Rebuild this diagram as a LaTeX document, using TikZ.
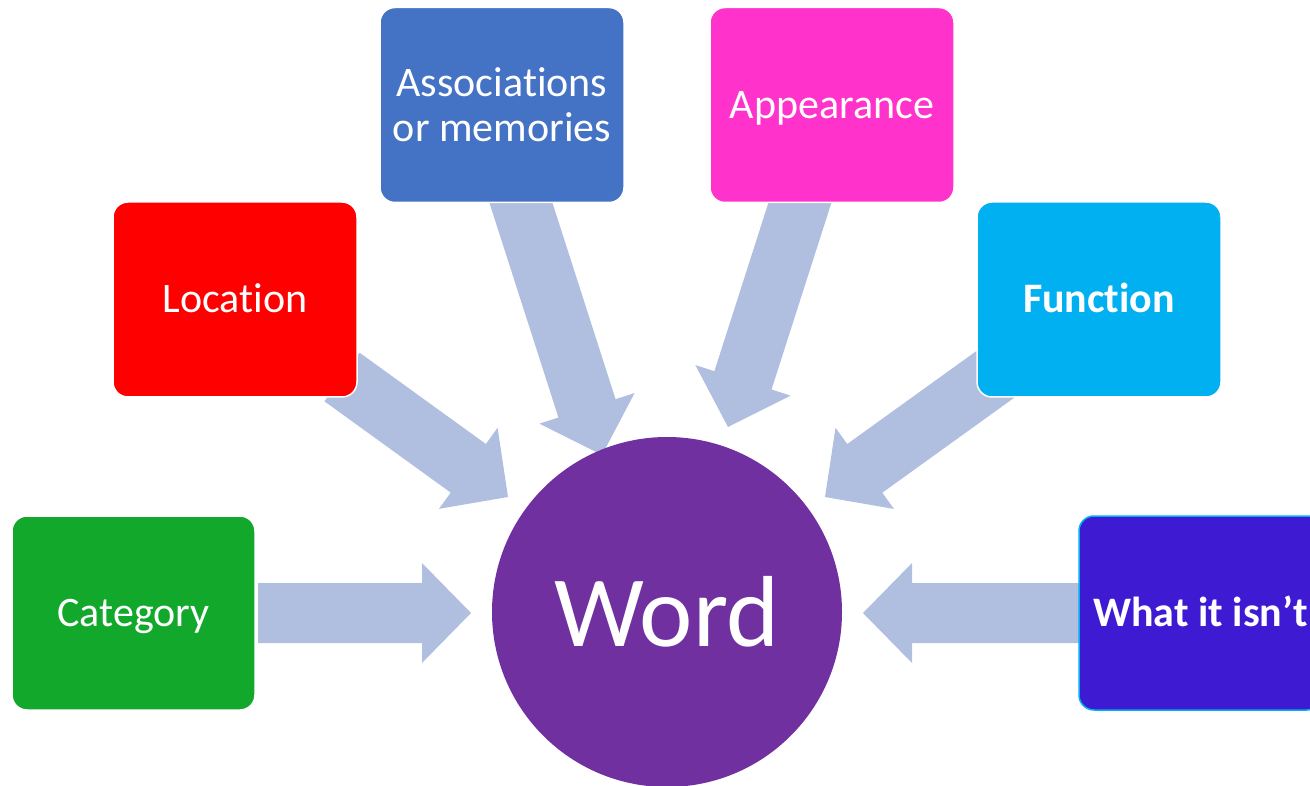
\documentclass[tikz,border=0pt]{standalone}
\usepackage{fontspec}
\setmainfont{Carlito}[Ligatures={NoCommon,NoContextual}]
\usetikzlibrary{calc}
\definecolor{arrowc}{HTML}{B0BEE0}
\definecolor{catc}{HTML}{12A82C}
\definecolor{locc}{HTML}{FF0000}
\definecolor{assc}{HTML}{4472C4}
\definecolor{appc}{HTML}{FF33CC}
\definecolor{funcc}{HTML}{00B0F0}
\definecolor{isntc}{HTML}{3E1BD3}
\definecolor{wordc}{HTML}{7030A0}
\newcommand{\blkarrow}[2]{%
  \coordinate (#1h) at ($(#2)!49pt!(#1)$);
  \fill[arrowc] (#2) -- ($(#1h)!50pt!90:(#2)$) -- ($(#1h)!30pt!90:(#2)$)
    -- ($(#1)!30pt!90:(#1h)$) -- ($(#1)!30pt!-90:(#1h)$)
    -- ($(#1h)!30pt!-90:(#2)$) -- ($(#1h)!50pt!-90:(#2)$) -- cycle;
}
\tikzset{
  cardbox/.style={rounded corners=15pt, draw=white, line width=1.5pt,
    minimum width=244pt, minimum height=195pt, inner sep=0pt,
    text=white, align=center, font=\fontsize{42}{45}\selectfont},
  onel/.style={text height=27pt, text depth=0pt}
}
\begin{document}
\begin{tikzpicture}[x=1pt,y=-1pt]
\useasboundingbox (0,0) rectangle (1310,786);
\clip (0,0) rectangle (1310,786);
% arrow coordinates
\coordinate (catS) at (258,613);  \coordinate (catT) at (471,613);
\coordinate (isnS) at (1090,613); \coordinate (isnT) at (863,613);
\coordinate (locS) at (342,377);  \coordinate (locT) at (508,497);
\coordinate (assS) at (516.5,189);\coordinate (assT) at (602,455);
\coordinate (appS) at (804,190);  \coordinate (appT) at (728,427);
\coordinate (funS) at (1000,371); \coordinate (funT) at (825,497);
\blkarrow{catS}{catT}
\blkarrow{isnS}{isnT}
\blkarrow{locS}{locT}
\blkarrow{assS}{assT}
\blkarrow{appS}{appT}
\blkarrow{funS}{funT}
% boxes
\node[cardbox, onel, fill=catc, minimum width=243pt, minimum height=194pt] (cat) at (133.5,613) {Category};
\node[cardbox, onel, fill=locc] (loc) at (235,299.5) {Location};
\node[cardbox, fill=assc] (ass) at (502,105) {Associations\\or memories};
\node[cardbox, onel, fill=appc] (app) at (832,105) {Appearance};
\node[cardbox, onel, fill=funcc, font=\fontsize{42}{45}\selectfont\bfseries] (fun) at (1099,299.5) {Function};
\node[cardbox, onel, fill=isntc, draw=funcc, minimum width=243pt, minimum height=194pt, font=\fontsize{42}{45}\selectfont\bfseries] (isn) at (1200.5,613) {What it isn’t};
% circle
\node[circle, fill=wordc, minimum size=350pt, inner sep=0pt, text=white,
  font=\fontsize{101}{110}\selectfont] (word) at (667,612) {Word};
\end{tikzpicture}
\end{document}
